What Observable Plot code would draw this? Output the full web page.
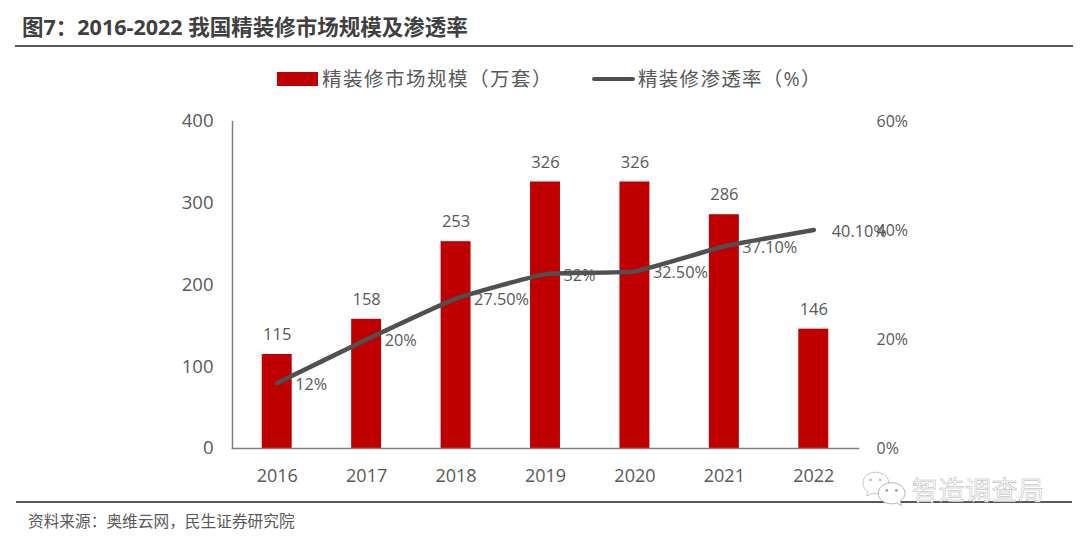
<!DOCTYPE html>
<html lang="zh-CN">
<head>
<meta charset="utf-8">
<script src="https://cdn.jsdelivr.net/npm/d3@7"></script>
<script src="https://cdn.jsdelivr.net/npm/@observablehq/plot@0.6"></script>
<style>
html,body{margin:0;padding:0;background:#fff;overflow:hidden}
#page{position:relative;width:1080px;height:538px;font-family:"Open Sans","Noto Sans CJK SC",sans-serif;color:#595959}
#page>div{position:absolute;white-space:nowrap}
#chart{left:0;top:0}
</style>
</head>
<body>
<div id="page">
  <div id="chart"></div>
  <div id="title" style="left:22px;top:12px;font-size:21.5px;line-height:30px;font-weight:700;color:#404040">图7：2016-2022 我国精装修市场规模及渗透率</div>
  <div style="left:15px;top:45px;width:1058px;height:2px;background:#595959"></div>
  <div style="left:277px;top:72px;width:41px;height:14px;background:#c00000"></div>
  <div style="left:322px;top:64px;font-size:19.5px;line-height:30px;letter-spacing:1.5px">精装修市场规模（万套）</div>
  <div style="left:592px;top:77px;width:43px;height:4px;border-radius:2px;background:#505050"></div>
  <div style="left:638px;top:64px;font-size:19.5px;line-height:30px;letter-spacing:1.3px">精装修渗透率（%）</div>
  <div style="left:16px;top:501px;width:1056px;height:2px;background:#595959"></div>
  <div style="left:28px;top:510px;font-size:15.7px;line-height:22px;color:#595959">资料来源：奥维云网，民生证券研究院</div>
  <div style="left:862px;top:470px">
    <svg width="44" height="38" viewBox="0 0 46 37">
      <path d="M14 1C6 1 1 6 1 12c0 4 2 7 5 9l-1 5 6-3c2 .5 4 .5 5 .5C24 23.500 28 18 28 12 28 6 22 1 14 1Z" fill="#fff" stroke="#c4c4c4"/>
      <path d="M31 12c-8 0-14 5-14 11s6 11 14 11c2 0 3 0 5-1l5 3-1-5c3-2 5-5 5-8 0-6-6-11-14-11Z" fill="#fff" stroke="#b0b0b0"/>
      <circle cx="9" cy="9" r="1.500" fill="#c0c0c0"/><circle cx="19" cy="9" r="1.500" fill="#c0c0c0"/>
      <circle cx="26" cy="20" r="1.500" fill="#a0a0a0"/><circle cx="36" cy="20" r="1.500" fill="#a0a0a0"/>
    </svg>
  </div>
  <div style="left:912px;top:472px;font-size:26px;line-height:36px;letter-spacing:.5px;color:#fff;-webkit-text-stroke:.5px #b4b4b4">智造调查局</div>
</div>
<script>
const years = ["2016","2017","2018","2019","2020","2021","2022"];
const scaleValues = [115,158,253,326,326,286,146];
const rateValues = [12,20,27.5,32,32.5,37.1,40.1];
const rateLabels = ["12%","20%","27.50%","32%","32.50%","37.10%","40.10%"];
const leftTicks = [0,100,200,300,400];
const rightTicks = [0,20,40,60];

const toLeft = p => p / 60 * 400; // secondary axis 0–60% shares the 0–400 scale
const rows = years.map((year, i) => ({
  year, scale: scaleValues[i], rate: toLeft(rateValues[i]), label: rateLabels[i]
}));
const ink = "#595959", axisInk = "#808080";

const plot = Plot.plot({
  width: 1080, height: 538,
  marginTop: 121, marginBottom: 90, marginLeft: 232, marginRight: 222,
  style: {fontFamily: '"Open Sans","Noto Sans CJK SC",sans-serif', fontSize: "16px", background: "transparent", overflow: "visible"},
  x: {domain: years, paddingInner: 0.665, paddingOuter: 0.3325, round: false, label: null},
  y: {domain: [0, 400], label: null},
  marks: [
    Plot.barY(rows, {x: "year", y: "scale", fill: "#c00000"}),
    Plot.frame({anchor: "left", stroke: axisInk, strokeWidth: 1.5}),
    Plot.frame({anchor: "bottom", stroke: axisInk, strokeWidth: 1.5}),
    Plot.line(rows, {x: "year", y: "rate", stroke: "#505050", strokeWidth: 4.5, curve: "cardinal", tension: 0.6, strokeLinecap: "round"}),
    Plot.text(rows, {x: "year", y: "scale", text: d => String(d.scale), dy: -19.500, fill: ink, fontSize: 16.5}),
    Plot.text(rows, {x: "year", y: "rate", text: "label", dx: 18, dy: 1.500, textAnchor: "start", fill: ink, fontSize: 16.3}),
    Plot.axisY({ticks: leftTicks, tickSize: 0, tickPadding: 19, label: null, fill: ink, fontSize: 18.5}),
    Plot.axisY({anchor: "right", ticks: rightTicks.map(toLeft), tickFormat: v => Math.round(v * 60 / 400) + "%", tickSize: 0, tickPadding: 18, label: null, fill: ink, fontSize: 16}),
    Plot.axisX({tickSize: 0, tickPadding: 21, label: null, fill: ink, fontSize: 18})
  ]
});
document.getElementById("chart").append(plot);
</script>
</body>
</html>
